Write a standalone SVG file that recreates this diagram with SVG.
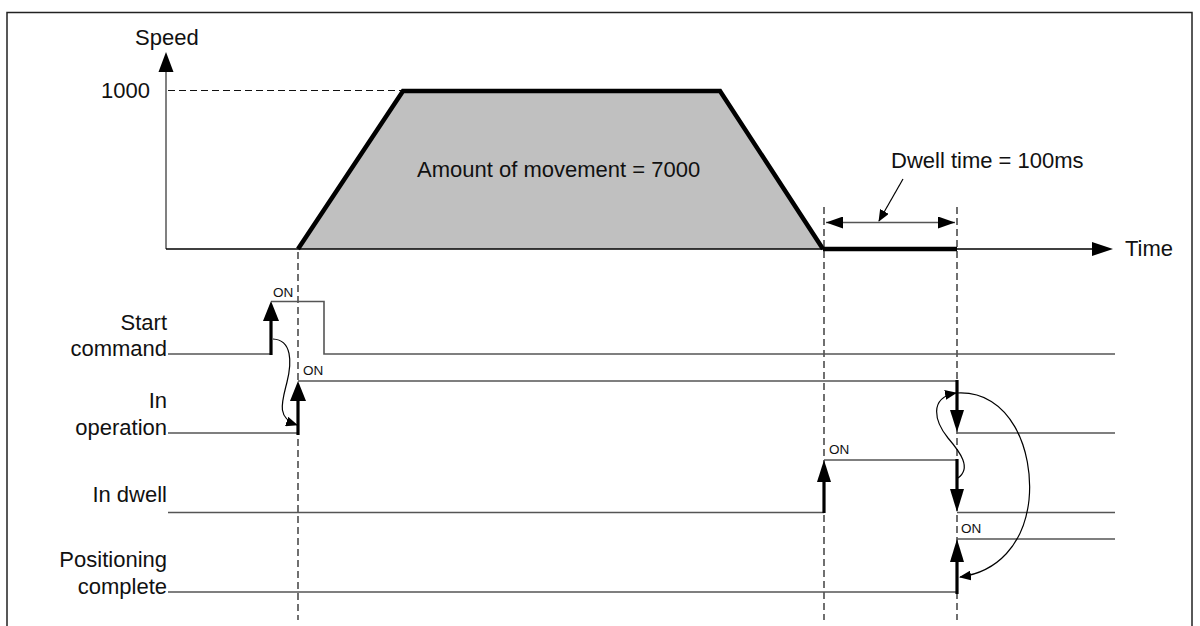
<svg xmlns="http://www.w3.org/2000/svg" width="1200" height="626" viewBox="0 0 1200 626">
<style>
text{font-family:"Liberation Sans",Arial,sans-serif;fill:#111}
.lbl{font-size:22px}
.on{font-size:13.5px}
.sig{stroke:#555;stroke-width:1.6;fill:none}
.dash{stroke:#111;stroke-width:1.2;stroke-dasharray:7,4;fill:none}
.thick{stroke:#000;stroke-width:3.2;fill:none}
.curve{stroke:#000;stroke-width:1.2;fill:none;marker-end:url(#ca)}
.head{fill:#000}
</style>
<defs>
<marker id="ca" viewBox="0 0 12 10" refX="11" refY="5" markerWidth="12" markerHeight="10" markerUnits="userSpaceOnUse" orient="auto"><path d="M0,0 L12,5 L0,10 Z" fill="#000"/></marker>
<marker id="da" viewBox="0 0 17 12" refX="17" refY="6" markerWidth="17" markerHeight="12" markerUnits="userSpaceOnUse" orient="auto"><path d="M0,0 L17,6 L0,12 Z" fill="#000"/></marker>
<marker id="ds" viewBox="0 0 17 12" refX="0" refY="6" markerWidth="17" markerHeight="12" markerUnits="userSpaceOnUse" orient="auto"><path d="M17,0 L0,6 L17,12 Z" fill="#000"/></marker>
</defs>
<rect x="7" y="12.5" width="1185" height="640" fill="#fff" stroke="#222" stroke-width="1.5"/>

<g id="speed-chart">
<path d="M298,249 L403,91 L720,91 L823,249 Z" fill="#c0c0c0"/>
<line x1="166" y1="72" x2="166" y2="249" stroke="#808080" stroke-width="2"/>
<path d="M166,52 L158.5,72 L173.5,72 Z" class="head"/>
<line x1="168" y1="90.5" x2="403" y2="90.5" class="dash"/>
<path d="M298,249 L403,91 L720,91 L823,249" stroke="#000" stroke-width="4.5" fill="none" stroke-linejoin="miter"/>
<line x1="823" y1="249" x2="957" y2="249" stroke="#000" stroke-width="4.5"/>
<line x1="166" y1="249" x2="1095" y2="249" stroke="#000" stroke-width="1.5"/>
<path d="M1113,249 L1092,242 L1092,256 Z" class="head"/>
<text x="135" y="45" class="lbl">Speed</text>
<text x="150" y="98" class="lbl" text-anchor="end">1000</text>
<text x="417" y="177" class="lbl">Amount of movement = 7000</text>
<text x="891" y="168" class="lbl">Dwell time = 100ms</text>
<text x="1125" y="256" class="lbl">Time</text>
</g>

<g id="dwell-dimension">
<line x1="826" y1="222.5" x2="955" y2="222.5" stroke="#555" stroke-width="1.5" marker-start="url(#ds)" marker-end="url(#da)"/>
<line x1="903" y1="179" x2="879" y2="221" stroke="#000" stroke-width="1.2" marker-end="url(#ca)"/>
</g>

<g id="guides">
<line x1="298" y1="252" x2="298" y2="620" class="dash"/>
<line x1="824" y1="207" x2="824" y2="620" class="dash"/>
<line x1="957" y1="207" x2="957" y2="620" class="dash"/>
</g>

<g id="start-command">
<text x="167" y="330" class="lbl" text-anchor="end">Start</text>
<text x="167" y="356" class="lbl" text-anchor="end">command</text>
<path d="M168,354 L271,354 M271,301.5 L324,301.5 L324,354 L1115,354" class="sig"/>
<line x1="271" y1="355" x2="271" y2="318" class="thick"/>
<path d="M271,301 L263,321 L279,321 Z" class="head"/>
<text x="273" y="297" class="on">ON</text>
</g>

<g id="in-operation">
<text x="167" y="408" class="lbl" text-anchor="end">In</text>
<text x="167" y="435" class="lbl" text-anchor="end">operation</text>
<path d="M168,433 L298,433 M298,381 L957,381 M957,433 L1115,433" class="sig"/>
<line x1="298" y1="435" x2="298" y2="398" class="thick"/>
<path d="M298,381 L290,401 L306,401 Z" class="head"/>
<line x1="957" y1="380" x2="957" y2="413" class="thick"/>
<path d="M957,432 L950,410 L964,410 Z" class="head"/>
<text x="303" y="375" class="on">ON</text>
</g>

<g id="in-dwell">
<text x="167" y="502" class="lbl" text-anchor="end">In dwell</text>
<path d="M168,512.5 L824,512.5 M824,460 L957,460 M957,512.5 L1115,512.5" class="sig"/>
<line x1="824" y1="513" x2="824" y2="478" class="thick"/>
<path d="M824,460 L817,482 L831,482 Z" class="head"/>
<line x1="957" y1="459" x2="957" y2="493" class="thick"/>
<path d="M957,512 L950,489 L964,489 Z" class="head"/>
<text x="829" y="454" class="on">ON</text>
</g>

<g id="positioning-complete">
<text x="167" y="567" class="lbl" text-anchor="end">Positioning</text>
<text x="167" y="594" class="lbl" text-anchor="end">complete</text>
<path d="M168,592 L957,592 M957,539 L1115,539" class="sig"/>
<line x1="957" y1="594" x2="957" y2="558" class="thick"/>
<path d="M957,539 L950,562 L964,562 Z" class="head"/>
<text x="961" y="533" class="on">ON</text>
</g>

<g id="connectors">
<path d="M273,339 C292,340 292,362 287,382 C282,402 276,418 297,425" class="curve"/>
<path d="M958,478 C972,468 960,452 948,438 C935,422 928,398 956,393" class="curve"/>
<path d="M957,393 C1010,390 1034,450 1029,500 C1024,545 997,572 960,577" class="curve"/>
</g>
</svg>
